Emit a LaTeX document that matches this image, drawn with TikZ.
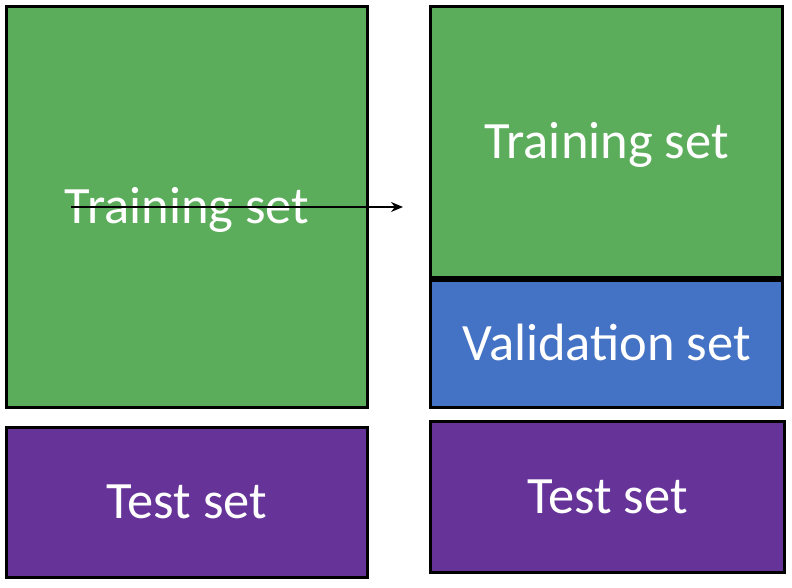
\documentclass[tikz,border=0pt]{standalone}
\usepackage{xcolor}
\usepackage{fontspec}
\setmainfont{Carlito}
\usepackage{tikz}
\usetikzlibrary{arrows.meta,positioning}
\definecolor{setgreen}{RGB}{91,172,91}
\definecolor{setblue}{RGB}{68,114,196}
\definecolor{setpurple}{RGB}{102,51,153}

\begin{document}
\begin{tikzpicture}[
    x=1pt, y=-1pt,
    box/.style={rectangle, draw=black, line width=3pt, inner sep=0pt, text=white,
        font=\fontsize{52.5}{60}\selectfont, text height=32pt, text depth=0pt},
    train/.style={box, fill=setgreen},
    valid/.style={box, fill=setblue},
    test/.style={box, fill=setpurple},
    arrow/.style={-{Stealth[length=12pt, width=10pt]}, line width=1.4pt}
]
    \useasboundingbox (0,0) rectangle (792,587);
    \node[train, minimum width=361pt, minimum height=401pt] (trainL) at (187,207) {Training set};
    \node[test, minimum width=361pt, minimum height=150pt] (testL) at (187,502.5) {Test set};
    \node[train, minimum width=352pt, minimum height=271pt] (trainR) at (606.5,142) {Training set};
    \node[valid, minimum width=352pt, minimum height=127pt] (valR) at (606.5,344) {Validation set};
    \node[test, minimum width=354pt, minimum height=151pt] (testR) at (607.5,497) {Test set};

    \coordinate (split) at (71,207);
    \coordinate (gap) at (403,207);
    \draw[arrow] (split) -- (gap);
\end{tikzpicture}
\end{document}
